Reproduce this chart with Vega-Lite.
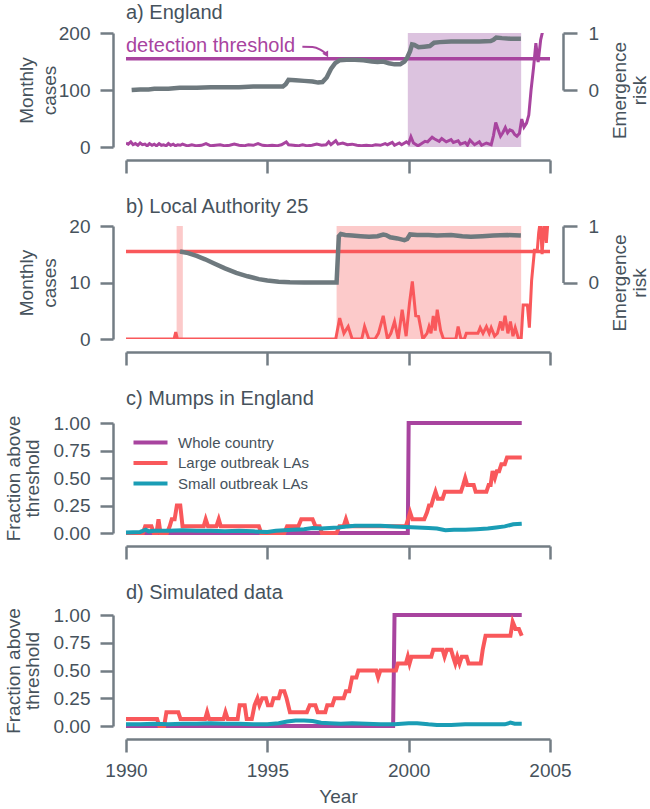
{
"$schema": "https://vega.github.io/schema/vega-lite/v6.json",
"padding": {"left": 4, "top": 3, "right": 0, "bottom": 0},
"spacing": 22,
"resolve": {"scale": {"color": "independent"}, "legend": {"color": "independent"}},
"config": {
  "font": "Liberation Sans",
  "view": {"stroke": null},
  "axis": {"grid": false, "domainColor": "#737d84", "domainWidth": 2.5, "tickColor": "#737d84", "tickWidth": 2.5, "labelFont": "Liberation Sans", "labelFontSize": 19, "labelColor": "#46525c", "titleFont": "Liberation Sans", "titleFontSize": 19, "titleFontWeight": "normal", "titleColor": "#46525c", "labelFlush": false},
  "title": {"fontSize": 20, "fontWeight": "normal", "anchor": "start", "frame": "group", "color": "#46525c", "font": "Liberation Sans"}
},
"datasets": {
  "a_shade": [{"start": 1999.97, "end": 2003.98}],
  "b_shade": [{"start": 1991.79, "end": 1992.01}, {"start": 1997.45, "end": 2003.98}],
  "arrow": [{"year": 1996.24, "cases": 176}, {"year": 1996.6, "cases": 175.5}, {"year": 1996.87, "cases": 171}, {"year": 1997.05, "cases": 165}],
  "a_cases": [
{"year":1990.0,"cases":7},{"year":1990.08,"cases":5},{"year":1990.17,"cases":9},{"year":1990.25,"cases":4},{"year":1990.33,"cases":6},{"year":1990.42,"cases":3},{"year":1990.5,"cases":7},{"year":1990.58,"cases":4},{"year":1990.67,"cases":5},{"year":1990.75,"cases":2},{"year":1990.83,"cases":6},{"year":1990.92,"cases":3},{"year":1991.0,"cases":5},{"year":1991.08,"cases":2},{"year":1991.17,"cases":6},{"year":1991.25,"cases":3},{"year":1991.33,"cases":4},{"year":1991.42,"cases":2},{"year":1991.5,"cases":6},{"year":1991.58,"cases":3},{"year":1991.67,"cases":5},{"year":1991.75,"cases":2},{"year":1991.83,"cases":4},{"year":1991.92,"cases":3},{"year":1992.0,"cases":5},{"year":1992.17,"cases":2},{"year":1992.33,"cases":4},{"year":1992.5,"cases":2},{"year":1992.67,"cases":3},{"year":1992.83,"cases":6},{"year":1993.0,"cases":2},{"year":1993.17,"cases":3},{"year":1993.33,"cases":4},{"year":1993.5,"cases":2},{"year":1993.67,"cases":3},{"year":1993.83,"cases":5},{"year":1994.0,"cases":3},{"year":1994.17,"cases":2},{"year":1994.33,"cases":4},{"year":1994.5,"cases":3},{"year":1994.67,"cases":6},{"year":1994.83,"cases":3},{"year":1995.0,"cases":2},{"year":1995.17,"cases":3},{"year":1995.33,"cases":2},{"year":1995.5,"cases":4},{"year":1995.67,"cases":9},{"year":1995.75,"cases":4},{"year":1995.92,"cases":3},{"year":1996.08,"cases":2},{"year":1996.25,"cases":4},{"year":1996.42,"cases":2},{"year":1996.58,"cases":3},{"year":1996.75,"cases":5},{"year":1996.92,"cases":3},{"year":1997.08,"cases":4},{"year":1997.17,"cases":9},{"year":1997.25,"cases":4},{"year":1997.42,"cases":11},{"year":1997.5,"cases":5},{"year":1997.67,"cases":7},{"year":1997.83,"cases":4},{"year":1998.0,"cases":5},{"year":1998.17,"cases":3},{"year":1998.33,"cases":2},{"year":1998.5,"cases":3},{"year":1998.67,"cases":2},{"year":1998.83,"cases":4},{"year":1999.0,"cases":3},{"year":1999.17,"cases":6},{"year":1999.25,"cases":4},{"year":1999.42,"cases":8},{"year":1999.5,"cases":3},{"year":1999.67,"cases":7},{"year":1999.75,"cases":4},{"year":1999.92,"cases":9},{"year":2000.0,"cases":6},{"year":2000.08,"cases":18},{"year":2000.17,"cases":7},{"year":2000.33,"cases":2},{"year":2000.42,"cases":5},{"year":2000.58,"cases":10},{"year":2000.67,"cases":9},{"year":2000.83,"cases":17},{"year":2000.92,"cases":14},{"year":2001.08,"cases":10},{"year":2001.17,"cases":15},{"year":2001.33,"cases":9},{"year":2001.5,"cases":13},{"year":2001.58,"cases":8},{"year":2001.75,"cases":11},{"year":2001.83,"cases":5},{"year":2002.0,"cases":8},{"year":2002.08,"cases":3},{"year":2002.17,"cases":12},{"year":2002.33,"cases":4},{"year":2002.5,"cases":9},{"year":2002.58,"cases":3},{"year":2002.75,"cases":7},{"year":2002.92,"cases":4},{"year":2003.0,"cases":20},{"year":2003.08,"cases":43},{"year":2003.17,"cases":30},{"year":2003.25,"cases":19},{"year":2003.33,"cases":25},{"year":2003.42,"cases":34},{"year":2003.5,"cases":25},{"year":2003.58,"cases":30},{"year":2003.67,"cases":28},{"year":2003.75,"cases":22},{"year":2003.83,"cases":19},{"year":2003.92,"cases":24},{"year":2004.0,"cases":49},{"year":2004.08,"cases":35},{"year":2004.17,"cases":42},{"year":2004.25,"cases":56},{"year":2004.33,"cases":100},{"year":2004.42,"cases":140},{"year":2004.5,"cases":182},{"year":2004.58,"cases":149},{"year":2004.67,"cases":188},{"year":2004.75,"cases":205},{"year":2004.83,"cases":240}
  ],
  "a_risk": [
{"year":1990.2,"risk":0.0},{"year":1990.5,"risk":0.01},{"year":1990.8,"risk":0.01},{"year":1991.0,"risk":0.02},{"year":1991.5,"risk":0.02},{"year":1991.9,"risk":0.04},{"year":1992.5,"risk":0.04},{"year":1993.0,"risk":0.05},{"year":1993.5,"risk":0.05},{"year":1994.0,"risk":0.05},{"year":1994.5,"risk":0.06},{"year":1995.0,"risk":0.06},{"year":1995.55,"risk":0.06},{"year":1995.65,"risk":0.1},{"year":1995.75,"risk":0.18},{"year":1996.0,"risk":0.17},{"year":1996.3,"risk":0.16},{"year":1996.6,"risk":0.15},{"year":1996.8,"risk":0.13},{"year":1996.95,"risk":0.14},{"year":1997.1,"risk":0.22},{"year":1997.25,"risk":0.37},{"year":1997.4,"risk":0.47},{"year":1997.55,"risk":0.52},{"year":1997.8,"risk":0.53},{"year":1998.1,"risk":0.53},{"year":1998.4,"risk":0.52},{"year":1998.7,"risk":0.5},{"year":1998.9,"risk":0.49},{"year":1999.1,"risk":0.5},{"year":1999.3,"risk":0.47},{"year":1999.5,"risk":0.45},{"year":1999.7,"risk":0.45},{"year":1999.85,"risk":0.5},{"year":1999.95,"risk":0.57},{"year":2000.05,"risk":0.68},{"year":2000.12,"risk":0.8},{"year":2000.2,"risk":0.79},{"year":2000.35,"risk":0.75},{"year":2000.55,"risk":0.76},{"year":2000.75,"risk":0.77},{"year":2000.9,"risk":0.83},{"year":2001.1,"risk":0.84},{"year":2001.5,"risk":0.85},{"year":2002.0,"risk":0.85},{"year":2002.5,"risk":0.85},{"year":2002.9,"risk":0.86},{"year":2003.0,"risk":0.88},{"year":2003.1,"risk":0.92},{"year":2003.3,"risk":0.91},{"year":2003.6,"risk":0.9},{"year":2003.97,"risk":0.9}
  ],
  "b_cases": [
{"year":1990.0,"cases":0},{"year":1991.7,"cases":0},{"year":1991.76,"cases":1.2},{"year":1991.82,"cases":0},{"year":1997.42,"cases":0},{"year":1997.56,"cases":3.7},{"year":1997.71,"cases":1.0},{"year":1997.86,"cases":2.2},{"year":1998.0,"cases":0},{"year":1998.34,"cases":0},{"year":1998.44,"cases":2.2},{"year":1998.59,"cases":0},{"year":1998.81,"cases":0},{"year":1998.93,"cases":1.0},{"year":1999.1,"cases":4.1},{"year":1999.25,"cases":0},{"year":1999.37,"cases":1.0},{"year":1999.5,"cases":3.1},{"year":1999.63,"cases":0},{"year":1999.77,"cases":5.2},{"year":1999.91,"cases":0.5},{"year":2000.03,"cases":6.4},{"year":2000.13,"cases":10.2},{"year":2000.25,"cases":4.1},{"year":2000.35,"cases":4.0},{"year":2000.5,"cases":0},{"year":2000.65,"cases":1.0},{"year":2000.72,"cases":2.2},{"year":2000.79,"cases":1.0},{"year":2000.87,"cases":4.1},{"year":2000.94,"cases":1.5},{"year":2001.01,"cases":5.2},{"year":2001.13,"cases":1.5},{"year":2001.23,"cases":0},{"year":2001.67,"cases":0},{"year":2001.75,"cases":2.2},{"year":2001.85,"cases":0},{"year":2001.97,"cases":0},{"year":2002.04,"cases":1.0},{"year":2002.45,"cases":1.0},{"year":2002.53,"cases":2.0},{"year":2002.63,"cases":1.0},{"year":2002.75,"cases":2.2},{"year":2002.85,"cases":1.0},{"year":2002.92,"cases":2.0},{"year":2003.04,"cases":0.5},{"year":2003.14,"cases":1.0},{"year":2003.25,"cases":3.1},{"year":2003.32,"cases":1.5},{"year":2003.41,"cases":4.1},{"year":2003.51,"cases":1.0},{"year":2003.6,"cases":3.1},{"year":2003.69,"cases":0.5},{"year":2003.77,"cases":2.0},{"year":2003.89,"cases":0},{"year":2003.98,"cases":0},{"year":2004.05,"cases":6},{"year":2004.2,"cases":6},{"year":2004.27,"cases":2},{"year":2004.35,"cases":10.4},{"year":2004.45,"cases":15.7},{"year":2004.55,"cases":15.7},{"year":2004.6,"cases":18.8},{"year":2004.66,"cases":21},{"year":2004.72,"cases":15},{"year":2004.8,"cases":21},{"year":2004.87,"cases":17},{"year":2004.93,"cases":21}
  ],
  "b_risk": [
{"year":1991.91,"risk":0.55},{"year":1992.2,"risk":0.52},{"year":1992.5,"risk":0.47},{"year":1992.8,"risk":0.41},{"year":1993.1,"risk":0.34},{"year":1993.5,"risk":0.25},{"year":1993.9,"risk":0.17},{"year":1994.3,"risk":0.11},{"year":1994.7,"risk":0.06},{"year":1995.0,"risk":0.035},{"year":1995.4,"risk":0.015},{"year":1995.8,"risk":0.005},{"year":1996.3,"risk":0.0},{"year":1997.45,"risk":0.0},{"year":1997.53,"risk":0.82},{"year":1997.6,"risk":0.86},{"year":1997.75,"risk":0.84},{"year":1998.0,"risk":0.83},{"year":1998.3,"risk":0.82},{"year":1998.6,"risk":0.81},{"year":1998.9,"risk":0.82},{"year":1999.1,"risk":0.85},{"year":1999.2,"risk":0.84},{"year":1999.35,"risk":0.8},{"year":1999.6,"risk":0.78},{"year":1999.85,"risk":0.75},{"year":1999.95,"risk":0.77},{"year":2000.05,"risk":0.85},{"year":2000.3,"risk":0.84},{"year":2000.7,"risk":0.84},{"year":2001.0,"risk":0.83},{"year":2001.5,"risk":0.84},{"year":2001.9,"risk":0.82},{"year":2002.2,"risk":0.81},{"year":2002.6,"risk":0.82},{"year":2003.0,"risk":0.83},{"year":2003.5,"risk":0.84},{"year":2003.97,"risk":0.83}
  ],
  "c_frac": [
{"series":"Whole country","year":1990.0,"frac":0},{"series":"Whole country","year":1999.97,"frac":0},{"series":"Whole country","year":2000.0,"frac":1},{"series":"Whole country","year":2004.0,"frac":1},
{"series":"Large outbreak LAs","year":1990.0,"frac":0},{"series":"Large outbreak LAs","year":1990.6,"frac":0},{"series":"Large outbreak LAs","year":1990.68,"frac":0.0625},{"series":"Large outbreak LAs","year":1990.9,"frac":0.0625},{"series":"Large outbreak LAs","year":1990.98,"frac":0},{"series":"Large outbreak LAs","year":1991.08,"frac":0},{"series":"Large outbreak LAs","year":1991.15,"frac":0.125},{"series":"Large outbreak LAs","year":1991.22,"frac":0},{"series":"Large outbreak LAs","year":1991.45,"frac":0},{"series":"Large outbreak LAs","year":1991.55,"frac":0.0625},{"series":"Large outbreak LAs","year":1991.62,"frac":0.125},{"series":"Large outbreak LAs","year":1991.72,"frac":0.125},{"series":"Large outbreak LAs","year":1991.8,"frac":0.25},{"series":"Large outbreak LAs","year":1991.92,"frac":0.25},{"series":"Large outbreak LAs","year":1992.0,"frac":0.0625},{"series":"Large outbreak LAs","year":1992.75,"frac":0.0625},{"series":"Large outbreak LAs","year":1992.82,"frac":0.125},{"series":"Large outbreak LAs","year":1992.9,"frac":0.0625},{"series":"Large outbreak LAs","year":1993.2,"frac":0.0625},{"series":"Large outbreak LAs","year":1993.28,"frac":0.125},{"series":"Large outbreak LAs","year":1993.35,"frac":0.0625},{"series":"Large outbreak LAs","year":1994.7,"frac":0.0625},{"series":"Large outbreak LAs","year":1994.78,"frac":0},{"series":"Large outbreak LAs","year":1995.6,"frac":0},{"series":"Large outbreak LAs","year":1995.7,"frac":0.0625},{"series":"Large outbreak LAs","year":1996.1,"frac":0.0625},{"series":"Large outbreak LAs","year":1996.2,"frac":0.125},{"series":"Large outbreak LAs","year":1996.6,"frac":0.125},{"series":"Large outbreak LAs","year":1996.7,"frac":0.0625},{"series":"Large outbreak LAs","year":1996.85,"frac":0.0625},{"series":"Large outbreak LAs","year":1996.93,"frac":0},{"series":"Large outbreak LAs","year":1997.45,"frac":0},{"series":"Large outbreak LAs","year":1997.55,"frac":0.0625},{"series":"Large outbreak LAs","year":1997.7,"frac":0.0625},{"series":"Large outbreak LAs","year":1997.78,"frac":0.125},{"series":"Large outbreak LAs","year":1997.86,"frac":0.0625},{"series":"Large outbreak LAs","year":1999.9,"frac":0.0625},{"series":"Large outbreak LAs","year":1999.98,"frac":0.125},{"series":"Large outbreak LAs","year":2000.05,"frac":0.1875},{"series":"Large outbreak LAs","year":2000.13,"frac":0.125},{"series":"Large outbreak LAs","year":2000.55,"frac":0.125},{"series":"Large outbreak LAs","year":2000.65,"frac":0.1875},{"series":"Large outbreak LAs","year":2000.72,"frac":0.25},{"series":"Large outbreak LAs","year":2000.8,"frac":0.25},{"series":"Large outbreak LAs","year":2000.87,"frac":0.3125},{"series":"Large outbreak LAs","year":2000.95,"frac":0.375},{"series":"Large outbreak LAs","year":2001.03,"frac":0.3125},{"series":"Large outbreak LAs","year":2001.2,"frac":0.3125},{"series":"Large outbreak LAs","year":2001.28,"frac":0.375},{"series":"Large outbreak LAs","year":2001.85,"frac":0.375},{"series":"Large outbreak LAs","year":2001.93,"frac":0.4375},{"series":"Large outbreak LAs","year":2002.0,"frac":0.5},{"series":"Large outbreak LAs","year":2002.07,"frac":0.4375},{"series":"Large outbreak LAs","year":2002.3,"frac":0.4375},{"series":"Large outbreak LAs","year":2002.37,"frac":0.375},{"series":"Large outbreak LAs","year":2002.75,"frac":0.375},{"series":"Large outbreak LAs","year":2002.83,"frac":0.4375},{"series":"Large outbreak LAs","year":2002.9,"frac":0.4375},{"series":"Large outbreak LAs","year":2002.97,"frac":0.5625},{"series":"Large outbreak LAs","year":2003.05,"frac":0.5},{"series":"Large outbreak LAs","year":2003.12,"frac":0.5625},{"series":"Large outbreak LAs","year":2003.2,"frac":0.5625},{"series":"Large outbreak LAs","year":2003.28,"frac":0.625},{"series":"Large outbreak LAs","year":2003.4,"frac":0.625},{"series":"Large outbreak LAs","year":2003.48,"frac":0.6875},{"series":"Large outbreak LAs","year":2004.0,"frac":0.6875},
{"series":"Small outbreak LAs","year":1990.0,"frac":0.005},{"series":"Small outbreak LAs","year":1990.5,"frac":0.01},{"series":"Small outbreak LAs","year":1990.7,"frac":0.03},{"series":"Small outbreak LAs","year":1990.8,"frac":0.015},{"series":"Small outbreak LAs","year":1991.0,"frac":0.02},{"series":"Small outbreak LAs","year":1991.5,"frac":0.02},{"series":"Small outbreak LAs","year":1992.0,"frac":0.025},{"series":"Small outbreak LAs","year":1992.5,"frac":0.02},{"series":"Small outbreak LAs","year":1993.0,"frac":0.02},{"series":"Small outbreak LAs","year":1993.5,"frac":0.015},{"series":"Small outbreak LAs","year":1994.0,"frac":0.02},{"series":"Small outbreak LAs","year":1994.5,"frac":0.015},{"series":"Small outbreak LAs","year":1995.0,"frac":0.01},{"series":"Small outbreak LAs","year":1995.3,"frac":0.02},{"series":"Small outbreak LAs","year":1995.6,"frac":0.025},{"series":"Small outbreak LAs","year":1995.9,"frac":0.03},{"series":"Small outbreak LAs","year":1996.3,"frac":0.035},{"series":"Small outbreak LAs","year":1996.6,"frac":0.045},{"series":"Small outbreak LAs","year":1996.9,"frac":0.04},{"series":"Small outbreak LAs","year":1997.2,"frac":0.045},{"series":"Small outbreak LAs","year":1997.5,"frac":0.05},{"series":"Small outbreak LAs","year":1997.8,"frac":0.06},{"series":"Small outbreak LAs","year":1998.1,"frac":0.065},{"series":"Small outbreak LAs","year":1998.5,"frac":0.065},{"series":"Small outbreak LAs","year":1999.0,"frac":0.065},{"series":"Small outbreak LAs","year":1999.5,"frac":0.06},{"series":"Small outbreak LAs","year":1999.9,"frac":0.055},{"series":"Small outbreak LAs","year":2000.3,"frac":0.05},{"series":"Small outbreak LAs","year":2000.7,"frac":0.045},{"series":"Small outbreak LAs","year":2001.0,"frac":0.04},{"series":"Small outbreak LAs","year":2001.3,"frac":0.025},{"series":"Small outbreak LAs","year":2001.6,"frac":0.03},{"series":"Small outbreak LAs","year":2002.0,"frac":0.03},{"series":"Small outbreak LAs","year":2002.4,"frac":0.035},{"series":"Small outbreak LAs","year":2002.8,"frac":0.04},{"series":"Small outbreak LAs","year":2003.1,"frac":0.05},{"series":"Small outbreak LAs","year":2003.4,"frac":0.06},{"series":"Small outbreak LAs","year":2003.7,"frac":0.08},{"series":"Small outbreak LAs","year":2004.0,"frac":0.085}
  ],
  "d_frac": [
{"series":"Whole country","year":1990.0,"frac":0},{"series":"Whole country","year":1999.45,"frac":0},{"series":"Whole country","year":1999.5,"frac":1},{"series":"Whole country","year":2004.0,"frac":1},
{"series":"Large outbreak LAs","year":1990.0,"frac":0.0625},{"series":"Large outbreak LAs","year":1991.1,"frac":0.0625},{"series":"Large outbreak LAs","year":1991.18,"frac":0},{"series":"Large outbreak LAs","year":1991.35,"frac":0},{"series":"Large outbreak LAs","year":1991.43,"frac":0.125},{"series":"Large outbreak LAs","year":1991.85,"frac":0.125},{"series":"Large outbreak LAs","year":1991.93,"frac":0.0625},{"series":"Large outbreak LAs","year":1992.8,"frac":0.0625},{"series":"Large outbreak LAs","year":1992.87,"frac":0.125},{"series":"Large outbreak LAs","year":1992.94,"frac":0.0625},{"series":"Large outbreak LAs","year":1993.45,"frac":0.0625},{"series":"Large outbreak LAs","year":1993.52,"frac":0.125},{"series":"Large outbreak LAs","year":1993.6,"frac":0.0625},{"series":"Large outbreak LAs","year":1993.95,"frac":0.0625},{"series":"Large outbreak LAs","year":1994.02,"frac":0.1875},{"series":"Large outbreak LAs","year":1994.2,"frac":0.1875},{"series":"Large outbreak LAs","year":1994.27,"frac":0.0625},{"series":"Large outbreak LAs","year":1994.45,"frac":0.0625},{"series":"Large outbreak LAs","year":1994.55,"frac":0.1875},{"series":"Large outbreak LAs","year":1994.65,"frac":0.25},{"series":"Large outbreak LAs","year":1994.72,"frac":0.1875},{"series":"Large outbreak LAs","year":1994.82,"frac":0.25},{"series":"Large outbreak LAs","year":1994.95,"frac":0.25},{"series":"Large outbreak LAs","year":1995.02,"frac":0.1875},{"series":"Large outbreak LAs","year":1995.15,"frac":0.1875},{"series":"Large outbreak LAs","year":1995.22,"frac":0.25},{"series":"Large outbreak LAs","year":1995.4,"frac":0.25},{"series":"Large outbreak LAs","year":1995.47,"frac":0.3125},{"series":"Large outbreak LAs","year":1995.6,"frac":0.3125},{"series":"Large outbreak LAs","year":1995.68,"frac":0.25},{"series":"Large outbreak LAs","year":1995.8,"frac":0.125},{"series":"Large outbreak LAs","year":1996.4,"frac":0.125},{"series":"Large outbreak LAs","year":1996.5,"frac":0.1875},{"series":"Large outbreak LAs","year":1996.7,"frac":0.1875},{"series":"Large outbreak LAs","year":1996.78,"frac":0.125},{"series":"Large outbreak LAs","year":1997.05,"frac":0.125},{"series":"Large outbreak LAs","year":1997.12,"frac":0.1875},{"series":"Large outbreak LAs","year":1997.3,"frac":0.1875},{"series":"Large outbreak LAs","year":1997.38,"frac":0.25},{"series":"Large outbreak LAs","year":1997.7,"frac":0.25},{"series":"Large outbreak LAs","year":1997.78,"frac":0.3125},{"series":"Large outbreak LAs","year":1997.9,"frac":0.3125},{"series":"Large outbreak LAs","year":1998.0,"frac":0.4375},{"series":"Large outbreak LAs","year":1998.15,"frac":0.4375},{"series":"Large outbreak LAs","year":1998.22,"frac":0.5},{"series":"Large outbreak LAs","year":1998.85,"frac":0.5},{"series":"Large outbreak LAs","year":1998.92,"frac":0.4375},{"series":"Large outbreak LAs","year":1999.0,"frac":0.5},{"series":"Large outbreak LAs","year":1999.55,"frac":0.5},{"series":"Large outbreak LAs","year":1999.62,"frac":0.5625},{"series":"Large outbreak LAs","year":1999.9,"frac":0.5625},{"series":"Large outbreak LAs","year":1999.97,"frac":0.625},{"series":"Large outbreak LAs","year":2000.03,"frac":0.5625},{"series":"Large outbreak LAs","year":2000.1,"frac":0.625},{"series":"Large outbreak LAs","year":2000.8,"frac":0.625},{"series":"Large outbreak LAs","year":2000.87,"frac":0.6875},{"series":"Large outbreak LAs","year":2001.2,"frac":0.6875},{"series":"Large outbreak LAs","year":2001.27,"frac":0.625},{"series":"Large outbreak LAs","year":2001.35,"frac":0.6875},{"series":"Large outbreak LAs","year":2001.5,"frac":0.6875},{"series":"Large outbreak LAs","year":2001.57,"frac":0.625},{"series":"Large outbreak LAs","year":2001.65,"frac":0.5625},{"series":"Large outbreak LAs","year":2001.72,"frac":0.625},{"series":"Large outbreak LAs","year":2001.8,"frac":0.5625},{"series":"Large outbreak LAs","year":2001.88,"frac":0.625},{"series":"Large outbreak LAs","year":2002.05,"frac":0.625},{"series":"Large outbreak LAs","year":2002.12,"frac":0.5625},{"series":"Large outbreak LAs","year":2002.55,"frac":0.5625},{"series":"Large outbreak LAs","year":2002.62,"frac":0.6875},{"series":"Large outbreak LAs","year":2002.72,"frac":0.8125},{"series":"Large outbreak LAs","year":2003.6,"frac":0.8125},{"series":"Large outbreak LAs","year":2003.68,"frac":0.9375},{"series":"Large outbreak LAs","year":2003.78,"frac":0.875},{"series":"Large outbreak LAs","year":2003.9,"frac":0.875},{"series":"Large outbreak LAs","year":2004.0,"frac":0.8125},
{"series":"Small outbreak LAs","year":1990.0,"frac":0.015},{"series":"Small outbreak LAs","year":1990.5,"frac":0.015},{"series":"Small outbreak LAs","year":1991.0,"frac":0.02},{"series":"Small outbreak LAs","year":1991.5,"frac":0.015},{"series":"Small outbreak LAs","year":1992.0,"frac":0.02},{"series":"Small outbreak LAs","year":1992.5,"frac":0.02},{"series":"Small outbreak LAs","year":1993.0,"frac":0.025},{"series":"Small outbreak LAs","year":1993.5,"frac":0.02},{"series":"Small outbreak LAs","year":1994.0,"frac":0.02},{"series":"Small outbreak LAs","year":1994.5,"frac":0.015},{"series":"Small outbreak LAs","year":1995.0,"frac":0.015},{"series":"Small outbreak LAs","year":1995.4,"frac":0.025},{"series":"Small outbreak LAs","year":1995.7,"frac":0.04},{"series":"Small outbreak LAs","year":1996.0,"frac":0.05},{"series":"Small outbreak LAs","year":1996.3,"frac":0.05},{"series":"Small outbreak LAs","year":1996.6,"frac":0.045},{"series":"Small outbreak LAs","year":1996.9,"frac":0.03},{"series":"Small outbreak LAs","year":1997.2,"frac":0.025},{"series":"Small outbreak LAs","year":1997.6,"frac":0.02},{"series":"Small outbreak LAs","year":1998.0,"frac":0.025},{"series":"Small outbreak LAs","year":1998.5,"frac":0.02},{"series":"Small outbreak LAs","year":1999.0,"frac":0.015},{"series":"Small outbreak LAs","year":1999.5,"frac":0.015},{"series":"Small outbreak LAs","year":2000.0,"frac":0.025},{"series":"Small outbreak LAs","year":2000.3,"frac":0.025},{"series":"Small outbreak LAs","year":2000.7,"frac":0.015},{"series":"Small outbreak LAs","year":2001.0,"frac":0.01},{"series":"Small outbreak LAs","year":2001.5,"frac":0.01},{"series":"Small outbreak LAs","year":2002.0,"frac":0.015},{"series":"Small outbreak LAs","year":2002.5,"frac":0.015},{"series":"Small outbreak LAs","year":2003.0,"frac":0.015},{"series":"Small outbreak LAs","year":2003.4,"frac":0.015},{"series":"Small outbreak LAs","year":2003.6,"frac":0.03},{"series":"Small outbreak LAs","year":2003.75,"frac":0.02},{"series":"Small outbreak LAs","year":2004.0,"frac":0.02}
  ]
},
"vconcat": [
{
  "title": {"text": "a) England", "offset": 1},
  "width": 424, "height": 114,
  "layer": [
    {"layer": [
      {"data": {"name": "a_shade"}, "mark": {"type": "rect", "color": "#dcc3df"},
       "encoding": {
         "x": {"field": "start", "type": "quantitative", "scale": {"domain": [1990, 2005], "nice": false, "zero": false}, "axis": {"offset": 13, "values": [1990, 1995, 2000, 2005], "tickSize": 13, "labels": false, "title": null}},
         "x2": {"field": "end"},
         "y": {"datum": 0, "type": "quantitative", "scale": {"domain": [0, 200], "nice": false}, "axis": {"orient": "left", "offset": 13, "values": [0, 50, 100, 150, 200], "tickSize": 13, "labelPadding": 10, "title": ["Monthly", "cases"], "titleAngle": 270, "titleBaseline": "alphabetic", "titleAlign": "center", "titleX": -81, "titleY": 57, "titleLineHeight": 23}},
         "y2": {"datum": 200}}},
      {"data": {"values": [{}]}, "mark": {"type": "rule", "color": "#a8449f", "strokeWidth": 3.5}, "encoding": {"y": {"datum": 155, "type": "quantitative"}}},
      {"data": {"name": "a_cases"}, "mark": {"type": "line", "color": "#a8449f", "strokeWidth": 3, "clip": true},
       "encoding": {"x": {"field": "year", "type": "quantitative"}, "y": {"field": "cases", "type": "quantitative"}}},
      {"data": {"values": [{}]}, "mark": {"type": "text", "text": "detection threshold", "align": "left", "baseline": "middle", "fontSize": 20, "color": "#a8449f", "font": "Liberation Sans"},
       "encoding": {"x": {"datum": 1990, "type": "quantitative"}, "y": {"datum": 177, "type": "quantitative"}}},
      {"data": {"name": "arrow"}, "mark": {"type": "line", "color": "#a8449f", "strokeWidth": 2, "interpolate": "monotone"},
       "encoding": {"x": {"field": "year", "type": "quantitative"}, "y": {"field": "cases", "type": "quantitative"}}},
      {"data": {"values": [{}]}, "mark": {"type": "point", "shape": "triangle-down", "filled": true, "size": 45, "color": "#a8449f", "opacity": 1, "angle": -30},
       "encoding": {"x": {"datum": 1997.1, "type": "quantitative"}, "y": {"datum": 162, "type": "quantitative"}}}
    ]},
    {"data": {"name": "a_risk"}, "mark": {"type": "line", "color": "#6e797e", "strokeWidth": 4.5},
     "encoding": {"x": {"field": "year", "type": "quantitative"},
       "y": {"field": "risk", "type": "quantitative", "scale": {"domain": [0, 1], "range": [57, 0], "nice": false}, "axis": {"orient": "right", "offset": 13, "values": [0, 1], "format": "d", "tickSize": 14, "labelPadding": 11, "title": ["Emergence", "risk"], "titleAngle": 270, "titleBaseline": "alphabetic", "titleAlign": "center", "titleX": 62, "titleY": 57, "titleLineHeight": 20}}}}
  ],
  "resolve": {"scale": {"y": "independent"}, "axis": {"y": "independent"}}
},
{
  "title": {"text": "b) Local Authority 25", "offset": 0},
  "width": 424, "height": 113,
  "layer": [
    {"layer": [
      {"data": {"name": "b_shade"}, "mark": {"type": "rect", "color": "#fccaca"},
       "encoding": {
         "x": {"field": "start", "type": "quantitative", "scale": {"domain": [1990, 2005], "nice": false, "zero": false}, "axis": {"offset": 13, "values": [1990, 1995, 2000, 2005], "tickSize": 13, "labels": false, "title": null}},
         "x2": {"field": "end"},
         "y": {"datum": 0, "type": "quantitative", "scale": {"domain": [0, 20], "nice": false}, "axis": {"orient": "left", "offset": 13, "values": [0, 5, 10, 15, 20], "tickSize": 13, "labelPadding": 10, "title": ["Monthly", "cases"], "titleAngle": 270, "titleBaseline": "alphabetic", "titleAlign": "center", "titleX": -81, "titleY": 56.5, "titleLineHeight": 23}},
         "y2": {"datum": 20}}},
      {"data": {"values": [{}]}, "mark": {"type": "rule", "color": "#f9585b", "strokeWidth": 3.5}, "encoding": {"y": {"datum": 15.5, "type": "quantitative"}}},
      {"data": {"name": "b_cases"}, "mark": {"type": "line", "color": "#f9585b", "strokeWidth": 3, "clip": true},
       "encoding": {"x": {"field": "year", "type": "quantitative"}, "y": {"field": "cases", "type": "quantitative"}}}
    ]},
    {"data": {"name": "b_risk"}, "mark": {"type": "line", "color": "#6e797e", "strokeWidth": 4.5},
     "encoding": {"x": {"field": "year", "type": "quantitative"},
       "y": {"field": "risk", "type": "quantitative", "scale": {"domain": [0, 1], "range": [56.5, 0], "nice": false}, "axis": {"orient": "right", "offset": 13, "values": [0, 1], "format": "d", "tickSize": 14, "labelPadding": 11, "title": ["Emergence", "risk"], "titleAngle": 270, "titleBaseline": "alphabetic", "titleAlign": "center", "titleX": 62, "titleY": 56.5, "titleLineHeight": 20}}}}
  ],
  "resolve": {"scale": {"y": "independent"}, "axis": {"y": "independent"}}
},
{
  "title": {"text": "c) Mumps in England", "offset": 5},
  "width": 424, "height": 110,
  "data": {"name": "c_frac"},
  "mark": {"type": "line", "strokeWidth": 4},
  "encoding": {
    "x": {"field": "year", "type": "quantitative", "scale": {"domain": [1990, 2005], "nice": false, "zero": false}, "axis": {"offset": 13, "values": [1990, 1995, 2000, 2005], "tickSize": 13, "labels": false, "title": null}},
    "y": {"field": "frac", "type": "quantitative", "scale": {"domain": [0, 1], "nice": false}, "axis": {"offset": 13, "values": [0, 0.25, 0.5, 0.75, 1], "format": ".2f", "tickSize": 13, "labelPadding": 10, "title": ["Fraction above", "threshold"], "titleAngle": 270, "titleBaseline": "alphabetic", "titleAlign": "center", "titleX": -94, "titleY": 55, "titleLineHeight": 19}},
    "color": {"field": "series", "type": "nominal", "scale": {"domain": ["Whole country", "Large outbreak LAs", "Small outbreak LAs"], "range": ["#a8449f", "#f9585b", "#1a9db5"]},
      "legend": {"orient": "none", "legendX": 17, "legendY": 12, "title": null, "padding": 0, "symbolType": "M-3.4,0L3.4,0", "symbolSize": 100, "symbolStrokeWidth": 4, "labelFontSize": 15, "labelColor": "#46525c", "labelFont": "Liberation Sans", "labelOffset": 20, "rowPadding": 3.5}}
  }
},
{
  "title": {"text": "d) Simulated data", "offset": 3},
  "width": 424, "height": 111,
  "data": {"name": "d_frac"},
  "mark": {"type": "line", "strokeWidth": 4},
  "encoding": {
    "x": {"field": "year", "type": "quantitative", "scale": {"domain": [1990, 2005], "nice": false, "zero": false}, "axis": {"offset": 13, "values": [1990, 1995, 2000, 2005], "format": "d", "tickSize": 13, "labelPadding": 9, "title": "Year", "titlePadding": 7}},
    "y": {"field": "frac", "type": "quantitative", "scale": {"domain": [0, 1], "nice": false}, "axis": {"offset": 13, "values": [0, 0.25, 0.5, 0.75, 1], "format": ".2f", "tickSize": 13, "labelPadding": 10, "title": ["Fraction above", "threshold"], "titleAngle": 270, "titleBaseline": "alphabetic", "titleAlign": "center", "titleX": -94, "titleY": 55.5, "titleLineHeight": 19}},
    "color": {"field": "series", "type": "nominal", "scale": {"domain": ["Whole country", "Large outbreak LAs", "Small outbreak LAs"], "range": ["#a8449f", "#f9585b", "#1a9db5"]}, "legend": null}
  }
}
]
}
